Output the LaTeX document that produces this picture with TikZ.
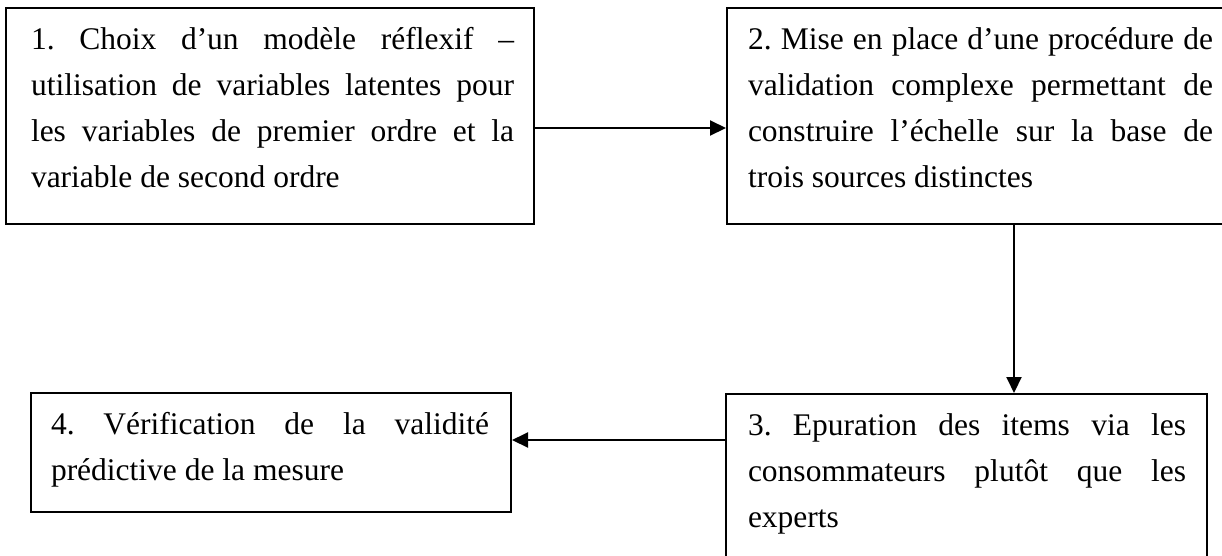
\documentclass[tikz,border=0pt]{standalone}
\usepackage{fontspec}
\setmainfont{Liberation Serif}
\usetikzlibrary{arrows.meta}
\newdimen\bw \newdimen\lp \newdimen\rp
\newcommand\JL[1]{\hbox to \bw{\hskip\lp\relax #1\hskip\rp\relax}}
\newcommand\LL[1]{\hbox to \bw{\hskip\lp\relax #1\hfil}}
\newcommand\setup[3]{\bw=#1\lp=#2\rp=#3\fontsize{31.5pt}{46pt}\selectfont\frenchspacing}
\tikzset{
  box/.style={draw, line width=2pt, inner sep=0pt, anchor=north west},
  arr/.style={line width=2pt, -{Triangle[length=16pt,width=15pt]}}
}
\begin{document}
\begin{tikzpicture}
\useasboundingbox (0pt,0pt) rectangle (1222pt,-555pt);
\node[box] (b1) at (5pt,-7pt) {\vbox{\setup{528pt}{25pt}{20pt}%
\JL{\rule{0pt}{41pt}1. Choix d’un modèle réflexif –}
\JL{utilisation de variables latentes pour}
\JL{les variables de premier ordre et la}
\LL{variable de second ordre\rule[-37pt]{0pt}{37pt}}}};
\node[box] (b2) at (726pt,-7pt) {\vbox{\setup{530pt}{21pt}{44pt}%
\JL{\rule{0pt}{41pt}2. Mise en place d’une procédure de}
\JL{validation complexe permettant de}
\JL{construire l’échelle sur la base de}
\LL{trois sources distinctes\rule[-37pt]{0pt}{37pt}}}};
\node[box] (b3) at (725pt,-393pt) {\vbox{\setup{481pt}{22pt}{21pt}%
\JL{\rule{0pt}{41pt}3. Epuration des items via les}
\JL{consommateurs plutôt que les}
\LL{experts\rule[-55pt]{0pt}{55pt}}}};
\node[box] (b4) at (30pt,-392pt) {\vbox{\setup{480pt}{20pt}{22pt}%
\JL{\rule{0pt}{41pt}4. Vérification de la validité}
\LL{prédictive de la mesure\rule[-32pt]{0pt}{32pt}}}};
\coordinate (c12) at (0pt,-128pt);
\coordinate (c23) at (1014pt,0pt);
\coordinate (c34) at (0pt,-440pt);
\draw[arr] (b1.east |- c12) -- (b2.west |- c12);
\draw[arr] (b2.south -| c23) -- (b3.north -| c23);
\draw[arr] (b3.west |- c34) -- (b4.east |- c34);
\end{tikzpicture}
\end{document}
